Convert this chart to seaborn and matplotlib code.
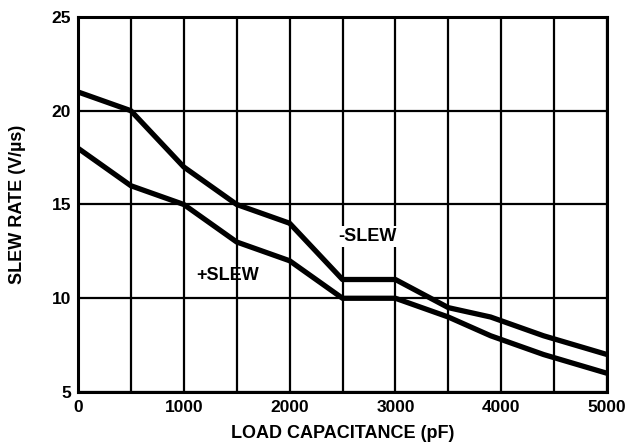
import pandas as pd
import matplotlib.pyplot as plt
import seaborn as sns
import numpy as np

load_pf = [0, 500, 1000, 1500, 2000, 2500, 3000, 3500, 3900, 4400, 5000]
neg_slew = [21, 20, 17, 15, 14, 11, 11, 9.5, 9, 8, 7]
pos_slew = [18, 16, 15, 13, 12, 10, 10, 9, 8, 7, 6]

df = pd.DataFrame({"load": load_pf * 2,
                   "slew": neg_slew + pos_slew,
                   "series": ["-SLEW"] * len(load_pf) + ["+SLEW"] * len(load_pf)})

sns.set_theme(style="white")
plt.rcParams['font.family'] = ['Liberation Sans', 'DejaVu Sans']
plt.rcParams['font.weight'] = 'bold'
plt.rcParams['text.color'] = 'black'
plt.rcParams['axes.labelcolor'] = 'black'
plt.rcParams['xtick.color'] = 'black'
plt.rcParams['ytick.color'] = 'black'

fig = plt.figure(figsize=(6.39, 4.45), dpi=100)
ax = fig.add_axes([0.122, 0.119, 0.828, 0.843])

sns.lineplot(data=df, x="load", y="slew", hue="series",
             palette=["black", "black"], linewidth=3.8, legend=False,
             ax=ax, sort=False, zorder=3)

ax.set_xlim(0, 5000)
ax.set_ylim(5, 25)
ax.set_xticks(np.arange(0, 5001, 1000))
ax.set_xticks(np.arange(0, 5001, 500), minor=True)
ax.set_yticks(np.arange(5, 26, 5))
ax.grid(True, which="both", color="black", linewidth=1.6)
ax.tick_params(axis="x", which="both", length=0, labelsize=12.5, pad=6)
ax.tick_params(axis="y", which="both", length=0, labelsize=12.5, pad=5)
for lab in ax.get_xticklabels() + ax.get_yticklabels():
    lab.set_fontweight("bold")
for sp in ax.spines.values():
    sp.set_color("black")
    sp.set_linewidth(2.2)

# series labels
ax.text(2736, 13.3, "-SLEW", fontsize=13, fontweight="bold", ha="center",
        va="center", zorder=4, bbox=dict(facecolor="white", edgecolor="none", pad=1.5))
ax.text(1418, 11.2, "+SLEW", fontsize=13, fontweight="bold", ha="center",
        va="center", zorder=4)

ax.set_xlabel("LOAD CAPACITANCE (pF)", fontsize=13, fontweight="bold", labelpad=7)
ax.set_ylabel("SLEW RATE (V/µs)", fontsize=13, fontweight="bold")
ax.yaxis.set_label_coords(-0.098, 0.5)

fig.savefig("out.png", dpi=100)
